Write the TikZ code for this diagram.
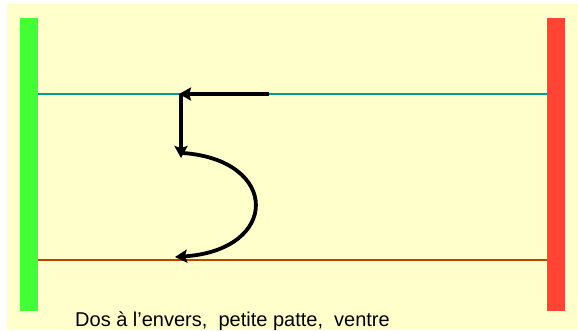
\documentclass[tikz,border=0pt]{standalone}
\usepackage{fontspec}
\setmainfont{Liberation Sans}
\usetikzlibrary{arrows.meta,positioning}

\definecolor{paper}{RGB}{255,255,204}
\definecolor{startgreen}{RGB}{68,255,51}
\definecolor{endred}{RGB}{255,68,51}
\definecolor{laneteal}{RGB}{0,153,153}
\definecolor{lanebrown}{RGB}{187,68,0}

\tikzset{
    wall/.style={inner sep=0pt, minimum width=18pt, minimum height=293pt},
    lane/.style={line width=1.8pt},
    move/.style={line width=3.8pt, -{Stealth[length=12pt,width=13pt,inset=2pt]}},
}

\begin{document}
\begin{tikzpicture}[x=1pt, y=-1pt]
    \useasboundingbox (0,0) rectangle (578,330);
    \fill[paper] (7,4) rectangle (578,330);

    % the two walls
    \node[wall, fill=startgreen] (left) at (29,164.5) {};
    \node[wall, fill=endred] (right) at (556,164.5) {};

    % the two lanes
    \draw[lane, laneteal] (left.east |- 0,94) coordinate (topL) -- (right.west |- 0,94) coordinate (topR);
    \draw[lane, lanebrown] (left.east |- 0,260) coordinate (botL) -- (right.west |- 0,260) coordinate (botR);

    % the figure
    \coordinate (go) at (269,94);
    \coordinate (turn) at (181,94);
    \coordinate (down) at (181,158);
    \coordinate (curl) at (183,153);
    \coordinate (land) at (175,257);

    \draw[move] (go) -- ([xshift=-2pt]turn);
    \draw[move] (turn) -- (down);
    \draw[move] (curl) .. controls (280,160) and (280,250) .. (land);

    \node[anchor=base west, inner sep=0pt, font=\fontsize{20}{24}\selectfont] (caption) at (75,326)
        {Dos à l’envers,\ \ petite patte,\ \ ventre};
\end{tikzpicture}
\end{document}
